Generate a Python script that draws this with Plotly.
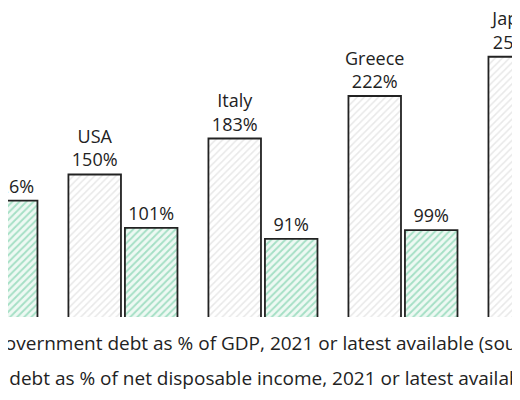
import plotly.graph_objects as go

countries = ['France', 'USA', 'Italy', 'Greece', 'Japan']
gov_debt = [None, 150, 183, 222, 258]
household_debt = [126, 101, 91, 99, None]

gov_name = 'Government debt as % of GDP, 2021 or latest available (source: OECD)'
hh_name = 'Household debt as % of net disposable income, 2021 or latest available (source: OECD)'

font = dict(family='Open Sans', size=18, color='#222222')
legend_font = dict(family='Open Sans', size=19, color='#222222')


def label(values, names=None):
    out = []
    for i, v in enumerate(values):
        if v is None:
            out.append('')
        elif names:
            out.append(f'{names[i]}<br>{v}%')
        else:
            out.append(f'{v}%')
    return out


fig = go.Figure(data=[
    go.Bar(name=gov_name, x=countries, y=gov_debt,
           text=label(gov_debt, countries), textposition='outside',
           marker=dict(color='white', line=dict(color='#222222', width=1.8),
                       pattern=dict(shape='/', fgcolor='#d2d2d2', bgcolor='white',
                                    size=5, solidity=0.3))),
    go.Bar(name=hh_name, x=countries, y=household_debt,
           text=label(household_debt), textposition='outside',
           marker=dict(color='white', line=dict(color='#222222', width=1.8),
                       pattern=dict(shape='/', fgcolor='#5cc598', bgcolor='#eef9f3',
                                    size=5, solidity=0.38))),
])
fig.update_traces(textfont=font, cliponaxis=False, constraintext='none')

# page body adds an 8px margin, so the figure is laid out 8px up/left
fig.update_layout(
    width=520, height=400,
    margin=dict(l=0, r=0, t=0, b=91),
    paper_bgcolor='white', plot_bgcolor='white',
    barmode='group',
    bargap=0.193,
    bargroupgap=0.07,
    showlegend=False,
    font=font,
    xaxis=dict(range=[0.179, 3.893], showticklabels=False, showgrid=False,
               zeroline=False, showline=False),
    yaxis=dict(range=[19.3, 302.7], visible=False),
    annotations=[
        dict(text=gov_name, xref='paper', yref='paper', x=-19 / 520, y=-26 / 309,
             xanchor='left', yanchor='middle', showarrow=False, font=legend_font),
        dict(text=hh_name, xref='paper', yref='paper', x=-102 / 520, y=-61 / 309,
             xanchor='left', yanchor='middle', showarrow=False, font=legend_font),
    ],
)

fig.write_html('out.html')
